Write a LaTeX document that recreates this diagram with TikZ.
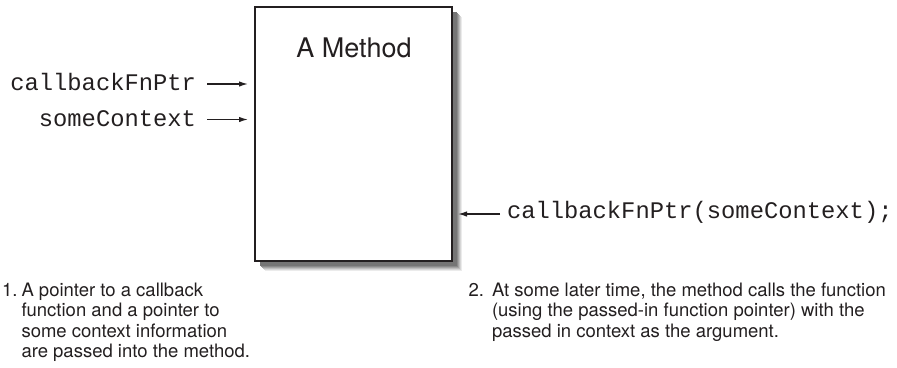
\documentclass[tikz,border=0pt]{standalone}
\usepackage{fontspec}
\setmainfont{TeX Gyre Heros}
\newfontfamily\monofont{Liberation Mono}
\usetikzlibrary{arrows.meta,calc}
\definecolor{ink}{HTML}{231F20}
\begin{document}
\begin{tikzpicture}[x=1pt,y=-1pt,
  mono/.style={font=\monofont\fontsize{23.8}{26}\selectfont, text=ink, inner sep=0pt, outer sep=0pt},
  note/.style={font=\fontsize{18.5}{20.5}\selectfont, text=ink, inner sep=0pt, outer sep=0pt},
  arr/.style={draw=ink, line width=1.3pt, -{Latex[length=9pt,width=5.5pt]}},
  methodbox/.style={draw=ink, fill=white, line width=2.2pt, minimum width=197pt, minimum height=254pt, inner sep=0pt, outer sep=0pt}
]
\useasboundingbox (0,0) rectangle (897,367);
% box
\node[methodbox, anchor=north west, draw=none, fill=none] (box) at (255,7) {};
% shadow
\foreach \d/\c in {10/8,9/16,8/26,7/36,6/46,5/54} {
  \fill[black!\c] ($(box.north west)+(\d,\d)$) rectangle ($(box.south east)+(\d,\d)$);
}
\node[methodbox, anchor=north west] at (255,7) {};
\node[font=\fontsize{27}{30}\selectfont, text=ink, anchor=base, inner sep=0pt] (title) at (354,57) {A Method};
% inputs
\node[mono, anchor=base east] (cb) at (196,90) {callbackFnPtr};
\node[mono, anchor=base east] (sc) at (196,126.5) {someContext};
\coordinate (cbs) at (207,84);
\coordinate (scs) at (207,119.5);
\draw[arr, shorten >=7pt] (cbs) -- (box.west |- cbs);
\draw[arr, shorten >=7pt] (scs) -- (box.west |- scs);
% callback
\node[mono, anchor=base west] (call) at (507,218) {callbackFnPtr(someContext);};
\coordinate (cs) at (500,214);
\draw[arr, shorten >=6pt] (cs) -- (box.east |- cs);
% notes
\node[note, anchor=base west] (n1) at (2,296) {1.};
\node[note, anchor=base west] (t1) at (21.5,296) {\begin{tabular}[t]{@{}l@{}}A pointer to a callback\\function and a pointer to\\some context information\\are passed into the method.\end{tabular}};
\node[note, anchor=base west] (n2) at (468.5,296) {2.};
\node[note, anchor=base west] (t2) at (492,296) {\begin{tabular}[t]{@{}l@{}}At some later time, the method calls the function\\(using the passed-in function pointer) with the\\passed in context as the argument.\end{tabular}};
\end{tikzpicture}
\end{document}
